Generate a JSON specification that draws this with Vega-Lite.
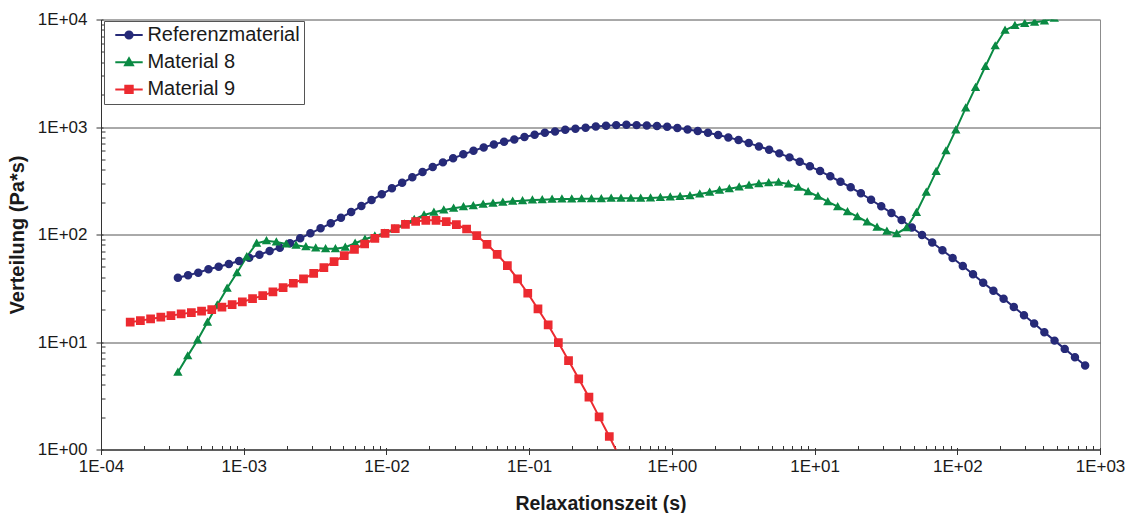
{
  "$schema": "https://vega.github.io/schema/vega-lite/v6.json",
  "autosize": "none",
  "width": 999,
  "height": 430,
  "padding": {"left": 101, "top": 19.5, "right": 29, "bottom": 63},
  "background": "white",
  "datasets": {
    "curves": [
      {"series": "Referenzmaterial", "time": 3.457e-4, "value": 39.67},
      {"series": "Referenzmaterial", "time": 4.075e-4, "value": 41.77},
      {"series": "Referenzmaterial", "time": 4.804e-4, "value": 44.16},
      {"series": "Referenzmaterial", "time": 5.662e-4, "value": 47.49},
      {"series": "Referenzmaterial", "time": 6.675e-4, "value": 50.20},
      {"series": "Referenzmaterial", "time": 7.869e-4, "value": 53.18},
      {"series": "Referenzmaterial", "time": 9.275e-4, "value": 56.71},
      {"series": "Referenzmaterial", "time": 1.093e-3, "value": 60.85},
      {"series": "Referenzmaterial", "time": 1.289e-3, "value": 64.93},
      {"series": "Referenzmaterial", "time": 1.519e-3, "value": 70.27},
      {"series": "Referenzmaterial", "time": 1.791e-3, "value": 75.40},
      {"series": "Referenzmaterial", "time": 2.111e-3, "value": 82.82},
      {"series": "Referenzmaterial", "time": 2.488e-3, "value": 92.19},
      {"series": "Referenzmaterial", "time": 2.933e-3, "value": 102.6},
      {"series": "Referenzmaterial", "time": 3.457e-3, "value": 114.2},
      {"series": "Referenzmaterial", "time": 4.075e-3, "value": 127.1},
      {"series": "Referenzmaterial", "time": 4.804e-3, "value": 143.3},
      {"series": "Referenzmaterial", "time": 5.662e-3, "value": 161.9},
      {"series": "Referenzmaterial", "time": 6.675e-3, "value": 184.0},
      {"series": "Referenzmaterial", "time": 7.869e-3, "value": 209.3},
      {"series": "Referenzmaterial", "time": 9.275e-3, "value": 236.4},
      {"series": "Referenzmaterial", "time": 1.093e-2, "value": 268.8},
      {"series": "Referenzmaterial", "time": 1.289e-2, "value": 302.9},
      {"series": "Referenzmaterial", "time": 1.519e-2, "value": 340.1},
      {"series": "Referenzmaterial", "time": 1.791e-2, "value": 380.9},
      {"series": "Referenzmaterial", "time": 2.111e-2, "value": 424.0},
      {"series": "Referenzmaterial", "time": 2.488e-2, "value": 468.8},
      {"series": "Referenzmaterial", "time": 2.933e-2, "value": 510.8},
      {"series": "Referenzmaterial", "time": 3.457e-2, "value": 556.5},
      {"series": "Referenzmaterial", "time": 4.075e-2, "value": 600.8},
      {"series": "Referenzmaterial", "time": 4.804e-2, "value": 646.2},
      {"series": "Referenzmaterial", "time": 5.662e-2, "value": 689.1},
      {"series": "Referenzmaterial", "time": 6.675e-2, "value": 728.6},
      {"series": "Referenzmaterial", "time": 7.869e-2, "value": 767.0},
      {"series": "Referenzmaterial", "time": 9.275e-2, "value": 805.6},
      {"series": "Referenzmaterial", "time": 0.1093, "value": 846.3},
      {"series": "Referenzmaterial", "time": 0.1289, "value": 883.4},
      {"series": "Referenzmaterial", "time": 0.1519, "value": 910.3},
      {"series": "Referenzmaterial", "time": 0.1791, "value": 941.9},
      {"series": "Referenzmaterial", "time": 0.2111, "value": 962.3},
      {"series": "Referenzmaterial", "time": 0.2488, "value": 983.0},
      {"series": "Referenzmaterial", "time": 0.2933, "value": 1013},
      {"series": "Referenzmaterial", "time": 0.3457, "value": 1026},
      {"series": "Referenzmaterial", "time": 0.4075, "value": 1041},
      {"series": "Referenzmaterial", "time": 0.4804, "value": 1048},
      {"series": "Referenzmaterial", "time": 0.5662, "value": 1041},
      {"series": "Referenzmaterial", "time": 0.6675, "value": 1035},
      {"series": "Referenzmaterial", "time": 0.7869, "value": 1020},
      {"series": "Referenzmaterial", "time": 0.9275, "value": 1004},
      {"series": "Referenzmaterial", "time": 1.093, "value": 977.0},
      {"series": "Referenzmaterial", "time": 1.289, "value": 950.0},
      {"series": "Referenzmaterial", "time": 1.519, "value": 916.2},
      {"series": "Referenzmaterial", "time": 1.791, "value": 883.4},
      {"series": "Referenzmaterial", "time": 2.111, "value": 840.9},
      {"series": "Referenzmaterial", "time": 2.488, "value": 800.5},
      {"series": "Referenzmaterial", "time": 2.933, "value": 755.6},
      {"series": "Referenzmaterial", "time": 3.457, "value": 708.6},
      {"series": "Referenzmaterial", "time": 4.075, "value": 660.2},
      {"series": "Referenzmaterial", "time": 4.804, "value": 614.0},
      {"series": "Referenzmaterial", "time": 5.662, "value": 568.4},
      {"series": "Referenzmaterial", "time": 6.675, "value": 521.8},
      {"series": "Referenzmaterial", "time": 7.869, "value": 474.9},
      {"series": "Referenzmaterial", "time": 9.275, "value": 430.4},
      {"series": "Referenzmaterial", "time": 10.93, "value": 389.2},
      {"series": "Referenzmaterial", "time": 12.89, "value": 347.5},
      {"series": "Referenzmaterial", "time": 15.19, "value": 309.5},
      {"series": "Referenzmaterial", "time": 17.91, "value": 274.6},
      {"series": "Referenzmaterial", "time": 21.11, "value": 241.5},
      {"series": "Referenzmaterial", "time": 24.88, "value": 210.6},
      {"series": "Referenzmaterial", "time": 29.33, "value": 182.9},
      {"series": "Referenzmaterial", "time": 34.57, "value": 158.4},
      {"series": "Referenzmaterial", "time": 40.75, "value": 136.4},
      {"series": "Referenzmaterial", "time": 48.04, "value": 116.2},
      {"series": "Referenzmaterial", "time": 56.62, "value": 98.9},
      {"series": "Referenzmaterial", "time": 66.75, "value": 84.28},
      {"series": "Referenzmaterial", "time": 78.69, "value": 71.46},
      {"series": "Referenzmaterial", "time": 92.75, "value": 60.48},
      {"series": "Referenzmaterial", "time": 109.3, "value": 50.96},
      {"series": "Referenzmaterial", "time": 128.9, "value": 42.67},
      {"series": "Referenzmaterial", "time": 151.9, "value": 35.64},
      {"series": "Referenzmaterial", "time": 179.1, "value": 30.04},
      {"series": "Referenzmaterial", "time": 211.1, "value": 25.31},
      {"series": "Referenzmaterial", "time": 248.8, "value": 21.19},
      {"series": "Referenzmaterial", "time": 293.3, "value": 17.74},
      {"series": "Referenzmaterial", "time": 345.7, "value": 14.83},
      {"series": "Referenzmaterial", "time": 407.5, "value": 12.33},
      {"series": "Referenzmaterial", "time": 480.4, "value": 10.30},
      {"series": "Referenzmaterial", "time": 566.2, "value": 8.63},
      {"series": "Referenzmaterial", "time": 667.5, "value": 7.22},
      {"series": "Referenzmaterial", "time": 786.9, "value": 6.04},

      {"series": "Material 8", "time": 3.457e-4, "value": 5.241},
      {"series": "Material 8", "time": 4.052e-4, "value": 7.427},
      {"series": "Material 8", "time": 4.750e-4, "value": 10.46},
      {"series": "Material 8", "time": 5.568e-4, "value": 15.28},
      {"series": "Material 8", "time": 6.527e-4, "value": 22.13},
      {"series": "Material 8", "time": 7.651e-4, "value": 31.62},
      {"series": "Material 8", "time": 8.968e-4, "value": 44.16},
      {"series": "Material 8", "time": 1.051e-3, "value": 62.20},
      {"series": "Material 8", "time": 1.232e-3, "value": 82.82},
      {"series": "Material 8", "time": 1.444e-3, "value": 87.59},
      {"series": "Material 8", "time": 1.693e-3, "value": 85.18},
      {"series": "Material 8", "time": 1.985e-3, "value": 81.58},
      {"series": "Material 8", "time": 2.326e-3, "value": 79.34},
      {"series": "Material 8", "time": 2.727e-3, "value": 77.01},
      {"series": "Material 8", "time": 3.196e-3, "value": 74.89},
      {"series": "Material 8", "time": 3.747e-3, "value": 73.79},
      {"series": "Material 8", "time": 4.392e-3, "value": 73.79},
      {"series": "Material 8", "time": 5.149e-3, "value": 76.03},
      {"series": "Material 8", "time": 6.035e-3, "value": 82.82},
      {"series": "Material 8", "time": 7.074e-3, "value": 90.25},
      {"series": "Material 8", "time": 8.293e-3, "value": 96.85},
      {"series": "Material 8", "time": 9.721e-3, "value": 102.6},
      {"series": "Material 8", "time": 1.1395e-2, "value": 112.5},
      {"series": "Material 8", "time": 1.336e-2, "value": 125.2},
      {"series": "Material 8", "time": 1.566e-2, "value": 137.9},
      {"series": "Material 8", "time": 1.835e-2, "value": 151.8},
      {"series": "Material 8", "time": 2.151e-2, "value": 160.8},
      {"series": "Material 8", "time": 2.522e-2, "value": 168.9},
      {"series": "Material 8", "time": 2.956e-2, "value": 175.2},
      {"series": "Material 8", "time": 3.465e-2, "value": 181.3},
      {"series": "Material 8", "time": 4.061e-2, "value": 185.2},
      {"series": "Material 8", "time": 4.761e-2, "value": 190.9},
      {"series": "Material 8", "time": 5.581e-2, "value": 195.0},
      {"series": "Material 8", "time": 6.542e-2, "value": 199.2},
      {"series": "Material 8", "time": 7.668e-2, "value": 203.5},
      {"series": "Material 8", "time": 8.989e-2, "value": 206.1},
      {"series": "Material 8", "time": 0.1054, "value": 209.2},
      {"series": "Material 8", "time": 0.1235, "value": 210.6},
      {"series": "Material 8", "time": 0.1448, "value": 212.4},
      {"series": "Material 8", "time": 0.1697, "value": 213.8},
      {"series": "Material 8", "time": 0.1989, "value": 213.8},
      {"series": "Material 8", "time": 0.2332, "value": 215.2},
      {"series": "Material 8", "time": 0.2733, "value": 215.2},
      {"series": "Material 8", "time": 0.3204, "value": 215.2},
      {"series": "Material 8", "time": 0.3756, "value": 217.0},
      {"series": "Material 8", "time": 0.4402, "value": 217.0},
      {"series": "Material 8", "time": 0.5161, "value": 217.0},
      {"series": "Material 8", "time": 0.6049, "value": 217.0},
      {"series": "Material 8", "time": 0.7091, "value": 218.4},
      {"series": "Material 8", "time": 0.8312, "value": 220.8},
      {"series": "Material 8", "time": 0.9743, "value": 223.1},
      {"series": "Material 8", "time": 1.142, "value": 226.0},
      {"series": "Material 8", "time": 1.339, "value": 229.4},
      {"series": "Material 8", "time": 1.569, "value": 237.9},
      {"series": "Material 8", "time": 1.840, "value": 246.7},
      {"series": "Material 8", "time": 2.157, "value": 257.5},
      {"series": "Material 8", "time": 2.528, "value": 266.6},
      {"series": "Material 8", "time": 2.963, "value": 276.4},
      {"series": "Material 8", "time": 3.473, "value": 286.6},
      {"series": "Material 8", "time": 4.071, "value": 296.6},
      {"series": "Material 8", "time": 4.772, "value": 302.9},
      {"series": "Material 8", "time": 5.594, "value": 305.5},
      {"series": "Material 8", "time": 6.557, "value": 294.7},
      {"series": "Material 8", "time": 7.686, "value": 274.6},
      {"series": "Material 8", "time": 9.010, "value": 249.9},
      {"series": "Material 8", "time": 10.56, "value": 226.5},
      {"series": "Material 8", "time": 12.38, "value": 201.8},
      {"series": "Material 8", "time": 14.52, "value": 181.3},
      {"series": "Material 8", "time": 17.01, "value": 162.9},
      {"series": "Material 8", "time": 19.94, "value": 146.4},
      {"series": "Material 8", "time": 23.37, "value": 130.7},
      {"series": "Material 8", "time": 27.40, "value": 116.7},
      {"series": "Material 8", "time": 32.11, "value": 107.1},
      {"series": "Material 8", "time": 37.64, "value": 101.7},
      {"series": "Material 8", "time": 44.13, "value": 115.7},
      {"series": "Material 8", "time": 51.72, "value": 160.1},
      {"series": "Material 8", "time": 60.63, "value": 246.7},
      {"series": "Material 8", "time": 71.07, "value": 385.0},
      {"series": "Material 8", "time": 83.31, "value": 599.6},
      {"series": "Material 8", "time": 97.66, "value": 939.8},
      {"series": "Material 8", "time": 114.5, "value": 1499},
      {"series": "Material 8", "time": 134.2, "value": 2334},
      {"series": "Material 8", "time": 157.3, "value": 3658},
      {"series": "Material 8", "time": 184.4, "value": 5683},
      {"series": "Material 8", "time": 216.1, "value": 7954},
      {"series": "Material 8", "time": 253.4, "value": 8794},
      {"series": "Material 8", "time": 296.9, "value": 9180},
      {"series": "Material 8", "time": 348.1, "value": 9439},
      {"series": "Material 8", "time": 408.0, "value": 9705},
      {"series": "Material 8", "time": 478.3, "value": 10280},

      {"series": "Material 9", "time": 1.602e-4, "value": 15.28},
      {"series": "Material 9", "time": 1.888e-4, "value": 15.81},
      {"series": "Material 9", "time": 2.226e-4, "value": 16.40},
      {"series": "Material 9", "time": 2.624e-4, "value": 17.01},
      {"series": "Material 9", "time": 3.092e-4, "value": 17.59},
      {"series": "Material 9", "time": 3.645e-4, "value": 18.24},
      {"series": "Material 9", "time": 4.297e-4, "value": 18.76},
      {"series": "Material 9", "time": 5.065e-4, "value": 19.33},
      {"series": "Material 9", "time": 5.970e-4, "value": 20.00},
      {"series": "Material 9", "time": 7.037e-4, "value": 21.06},
      {"series": "Material 9", "time": 8.296e-4, "value": 22.27},
      {"series": "Material 9", "time": 9.779e-4, "value": 23.59},
      {"series": "Material 9", "time": 1.153e-3, "value": 25.31},
      {"series": "Material 9", "time": 1.359e-3, "value": 27.00},
      {"series": "Material 9", "time": 1.602e-3, "value": 29.22},
      {"series": "Material 9", "time": 1.888e-3, "value": 32.03},
      {"series": "Material 9", "time": 2.226e-3, "value": 35.20},
      {"series": "Material 9", "time": 2.624e-3, "value": 38.58},
      {"series": "Material 9", "time": 3.092e-3, "value": 43.59},
      {"series": "Material 9", "time": 3.645e-3, "value": 49.14},
      {"series": "Material 9", "time": 4.297e-3, "value": 55.87},
      {"series": "Material 9", "time": 5.065e-3, "value": 63.53},
      {"series": "Material 9", "time": 5.970e-3, "value": 72.86},
      {"series": "Material 9", "time": 7.037e-3, "value": 81.58},
      {"series": "Material 9", "time": 8.296e-3, "value": 92.19},
      {"series": "Material 9", "time": 9.779e-3, "value": 102.6},
      {"series": "Material 9", "time": 1.153e-2, "value": 113.7},
      {"series": "Material 9", "time": 1.359e-2, "value": 124.4},
      {"series": "Material 9", "time": 1.602e-2, "value": 132.1},
      {"series": "Material 9", "time": 1.888e-2, "value": 135.5},
      {"series": "Material 9", "time": 2.226e-2, "value": 135.5},
      {"series": "Material 9", "time": 2.624e-2, "value": 131.5},
      {"series": "Material 9", "time": 3.092e-2, "value": 123.3},
      {"series": "Material 9", "time": 3.645e-2, "value": 112.5},
      {"series": "Material 9", "time": 4.297e-2, "value": 97.45},
      {"series": "Material 9", "time": 5.065e-2, "value": 81.07},
      {"series": "Material 9", "time": 5.970e-2, "value": 65.46},
      {"series": "Material 9", "time": 7.037e-2, "value": 51.29},
      {"series": "Material 9", "time": 8.296e-2, "value": 38.58},
      {"series": "Material 9", "time": 9.779e-2, "value": 28.41},
      {"series": "Material 9", "time": 0.1153, "value": 20.30},
      {"series": "Material 9", "time": 0.1359, "value": 14.42},
      {"series": "Material 9", "time": 0.1602, "value": 9.872},
      {"series": "Material 9", "time": 0.1888, "value": 6.716},
      {"series": "Material 9", "time": 0.2226, "value": 4.541},
      {"series": "Material 9", "time": 0.2624, "value": 3.069},
      {"series": "Material 9", "time": 0.3092, "value": 2.013},
      {"series": "Material 9", "time": 0.3645, "value": 1.321},
      {"series": "Material 9", "time": 0.4297, "value": 0.852}
    ]
  },
  "data": {"name": "curves"},
  "config": {
    "font": "Liberation Sans",
    "view": {"stroke": "#8c8c8c", "strokeWidth": 1},
    "axis": {
      "labelFont": "Liberation Sans",
      "labelFontSize": 17,
      "labelColor": "#1a1a1a",
      "titleFont": "Liberation Sans",
      "titleFontSize": 19.5,
      "titleFontWeight": "bold",
      "titleColor": "#1a1a1a",
      "domainColor": "#333333",
      "tickColor": "#333333",
      "tickWidth": 1,
      "domainWidth": 1
    },
    "legend": {
      "labelFont": "Liberation Sans",
      "labelFontSize": 20,
      "labelColor": "#1a1a1a"
    }
  },
  "encoding": {
    "x": {"field": "time", "type": "quantitative", "scale": {"type": "log", "domain": [0.0001, 1000], "nice": false}},
    "y": {"field": "value", "type": "quantitative", "scale": {"type": "log", "domain": [1, 10000], "nice": false}}
  },
  "layer": [
    {
      "mark": {"type": "line", "strokeWidth": 2, "clip": true},
      "encoding": {
        "x": {
          "field": "time", "type": "quantitative",
          "axis": {
            "orient": "bottom",
            "values": [0.0001, 0.001, 0.01, 0.1, 1, 10, 100, 1000],
            "labelExpr": "'1E' + (datum.value < 1 ? '-' : '+') + (abs(round(log(datum.value) / LN10)) < 10 ? '0' : '') + abs(round(log(datum.value) / LN10))",
            "tickSize": 5,
            "labelPadding": 4,
            "labelFlush": false,
            "labelOverlap": false,
            "grid": false,
            "title": "Relaxationszeit (s)",
            "titlePadding": 20
          }
        },
        "y": {
          "field": "value", "type": "quantitative",
          "axis": {
            "orient": "left",
            "values": [1, 10, 100, 1000, 10000],
            "labelExpr": "'1E' + (datum.value < 1 ? '-' : '+') + (abs(round(log(datum.value) / LN10)) < 10 ? '0' : '') + abs(round(log(datum.value) / LN10))",
            "tickSize": 5,
            "labelPadding": 9,
            "labelFlush": false,
            "labelOverlap": false,
            "grid": true,
            "gridColor": {"condition": {"test": "datum.value > 5000", "value": "#8c8c8c"}, "value": "#555555"},
            "gridWidth": 1,
            "title": "Verteilung (Pa*s)",
            "titleFontSize": 20,
            "titlePadding": 10
          }
        },
        "color": {
          "field": "series", "type": "nominal",
          "scale": {"domain": ["Referenzmaterial", "Material 8", "Material 9"], "range": ["#262a78", "#0a8a43", "#ec2a30"]}
        }
      }
    },
    {
      "mark": {"type": "point", "filled": true, "opacity": 1, "size": 72, "clip": true},
      "encoding": {
        "x": {
          "field": "time", "type": "quantitative",
          "axis": {
            "orient": "bottom",
            "values": [0.0001, 0.0002, 0.0003, 0.0004, 0.0005, 0.0006, 0.0007, 0.0008, 0.0009, 0.001, 0.002, 0.003, 0.004, 0.005, 0.006, 0.007, 0.008, 0.009, 0.01, 0.02, 0.03, 0.04, 0.05, 0.06, 0.07, 0.08, 0.09, 0.1, 0.2, 0.3, 0.4, 0.5, 0.6, 0.7, 0.8, 0.9, 1, 2, 3, 4, 5, 6, 7, 8, 9, 10, 20, 30, 40, 50, 60, 70, 80, 90, 100, 200, 300, 400, 500, 600, 700, 800, 900, 1000],
            "tickSize": {"condition": {"test": "abs(log(datum.value) / LN10 - round(log(datum.value) / LN10)) < 0.001", "value": -2}, "value": -4},
            "labels": false,
            "domain": false,
            "grid": false,
            "title": null
          }
        },
        "y": {
          "field": "value", "type": "quantitative",
          "axis": {
            "orient": "left",
            "values": [1, 2, 3, 4, 5, 6, 7, 8, 9, 10, 20, 30, 40, 50, 60, 70, 80, 90, 100, 200, 300, 400, 500, 600, 700, 800, 900, 1000, 2000, 3000, 4000, 5000, 6000, 7000, 8000, 9000, 10000],
            "tickSize": {"condition": {"test": "abs(log(datum.value) / LN10 - round(log(datum.value) / LN10)) < 0.001", "value": -2}, "value": -4},
            "labels": false,
            "domain": false,
            "grid": false,
            "title": null
          }
        },
        "color": {
          "field": "series", "type": "nominal",
          "scale": {"domain": ["Referenzmaterial", "Material 8", "Material 9"], "range": ["#262a78", "#0a8a43", "#ec2a30"]},
          "legend": {
            "title": null,
            "orient": "none",
            "legendX": 3,
            "legendY": 1.5,
            "strokeColor": "#555555",
            "fillColor": "white",
            "padding": 4,
            "rowPadding": 7.2,
            "labelOffset": 8.4,
            "symbolOffset": 11,
            "symbolSize": 52,
            "symbolStrokeWidth": 2,
            "symbolOpacity": 1
          }
        },
        "shape": {
          "field": "series", "type": "nominal",
          "scale": {
            "domain": ["Referenzmaterial", "Material 8", "Material 9"],
            "range": [
              "M-3.8,0H3.8M1,0A1,1,0,1,1,-1,0A1,1,0,1,1,1,0Z",
              "M-3.8,0H3.8M0,-1.12L1.1,0.82L-1.1,0.82Z",
              "M-3.8,0H3.8M-1.03,-1.03H1.03V1.03H-1.03Z"
            ]
          },
          "legend": {
            "title": null,
            "orient": "none",
            "legendX": 3,
            "legendY": 1.5,
            "strokeColor": "#555555",
            "fillColor": "white",
            "padding": 4,
            "rowPadding": 7.2,
            "labelOffset": 8.4,
            "symbolOffset": 11,
            "symbolSize": 52,
            "symbolStrokeWidth": 2,
            "symbolOpacity": 1
          }
        }
      }
    }
  ],
  "resolve": {"axis": {"x": "independent", "y": "independent"}}
}
